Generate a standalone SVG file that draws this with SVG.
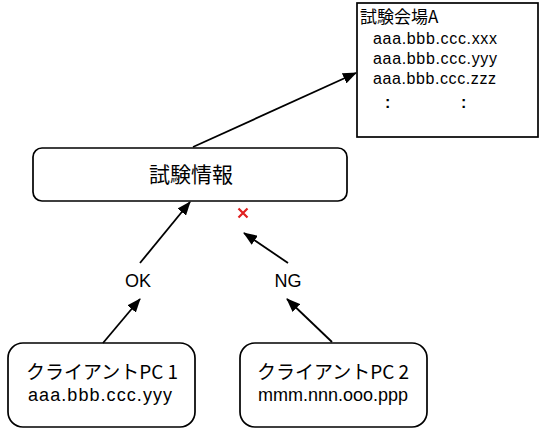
<svg xmlns="http://www.w3.org/2000/svg" width="542" height="430" viewBox="0 0 542 430">
<style>
.box{fill:#fff;stroke:#000;stroke-width:1.7}
.jp{font-family:"Noto Sans CJK JP","Liberation Sans",sans-serif;fill:#000}
.en{font-family:"Liberation Sans",Arial,sans-serif;fill:#000}
.conn line{stroke:#000;stroke-width:1.8;marker-end:url(#ah)}
</style>
<defs>
<marker id="ah" viewBox="0 0 14 11" refX="13" refY="5.5" markerWidth="14" markerHeight="11" markerUnits="userSpaceOnUse" orient="auto">
<path d="M0,0 L14,5.5 L0,11 Z" fill="#000"/>
</marker>
</defs>
<rect width="542" height="430" fill="#fff"/>
<g id="venue">
<rect class="box" x="357" y="3" width="181" height="134"/>
<text class="jp" x="360" y="23" font-size="17">試験会場A</text>
<text class="en" x="373" y="44" font-size="16" textLength="124">aaa.bbb.ccc.xxx</text>
<text class="en" x="373" y="64" font-size="16" textLength="124">aaa.bbb.ccc.yyy</text>
<text class="en" x="373" y="84" font-size="16" textLength="123">aaa.bbb.ccc.zzz</text>
<text class="en" x="385" y="108" font-size="16" font-weight="bold">:</text>
<text class="en" x="461" y="108" font-size="16" font-weight="bold">:</text>
</g>
<g id="info">
<rect class="box" x="33" y="148" width="314" height="53" rx="9"/>
<text class="jp" x="191" y="182" font-size="21" text-anchor="middle">試験情報</text>
</g>
<g id="client1">
<rect class="box" x="8" y="343" width="187" height="84" rx="15"/>
<text class="jp" x="102" y="379" font-size="19" text-anchor="middle">クライアントPC 1</text>
<text class="en" x="100" y="401" font-size="18" text-anchor="middle" textLength="144">aaa.bbb.ccc.yyy</text>
</g>
<g id="client2">
<rect class="box" x="240" y="343" width="187" height="84" rx="15"/>
<text class="jp" x="333" y="379" font-size="19" text-anchor="middle">クライアントPC 2</text>
<text class="en" x="333" y="401" font-size="18" text-anchor="middle" textLength="150">mmm.nnn.ooo.ppp</text>
</g>
<g id="connectors" class="conn">
<line x1="193" y1="147" x2="356" y2="73"/>
<line x1="103" y1="343" x2="140" y2="299"/>
<line x1="140" y1="263" x2="190" y2="202"/>
<line x1="332" y1="342" x2="287" y2="299"/>
<line x1="288" y1="263" x2="244" y2="233"/>
</g>
<g id="labels">
<text class="en" x="138" y="287" font-size="18" text-anchor="middle">OK</text>
<text class="en" x="288" y="287" font-size="18" text-anchor="middle">NG</text>
<path d="M238.5,208.5 L247.5,217.5 M247.5,208.5 L238.5,217.5" stroke="#e02020" stroke-width="2.2"/>
</g>
</svg>
